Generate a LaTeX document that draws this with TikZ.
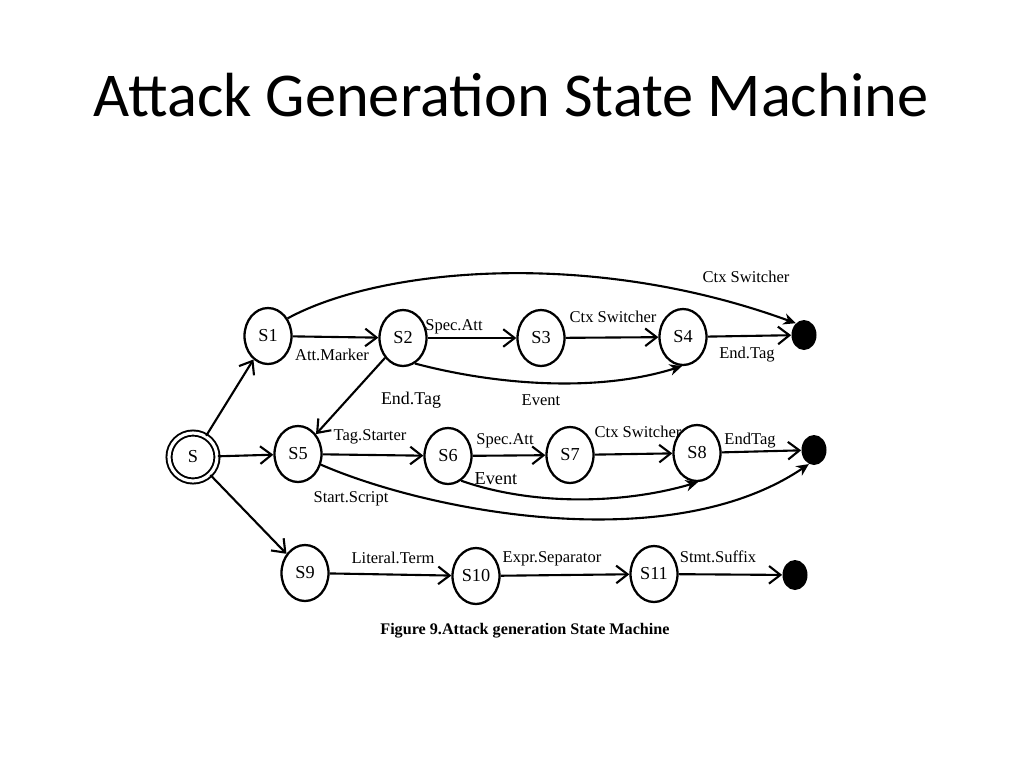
\documentclass[tikz,border=0pt]{standalone}
\usepackage{fontspec}
\setmainfont{Liberation Serif}
\newfontfamily\titlefont{Carlito}
\usetikzlibrary{shapes.geometric,arrows.meta}
\begin{document}
\begin{tikzpicture}[x=0.02cm,y=-0.02cm,
 state/.style={ellipse,draw,line width=1.3pt,minimum width=0.94cm,minimum height=1.12cm,inner sep=0pt,font=\fontsize{10.4}{11}\selectfont},
 final/.style={ellipse,fill=black,minimum width=0.5cm,minimum height=0.6cm,inner sep=0pt},
 lbl/.style={font=\fontsize{9.4}{10}\selectfont,inner sep=0pt},
 tr/.style={line width=1.2pt,-{Straight Barb[length=6.5pt,width=10pt,line width=1.2pt]}},
 cv/.style={line width=1.2pt,-{Stealth[length=7pt,width=6.5pt]}}]
\fill[white] (0,0) rectangle (1024,768);
\useasboundingbox (0,0) rectangle (1024,768);

\node[font=\titlefont\fontsize{35.5}{40}\selectfont, anchor=base] (title) at (511,116) {Attack Generation State Machine};

% states
\node[circle,draw,double,double distance=1.8pt,line width=1.1pt,minimum size=0.96cm,inner sep=0pt,font=\fontsize{10.4}{11}\selectfont] (S) at (193,457) {S};
\node[state] (S1) at (268,336) {S1};
\node[state] (S2) at (403,338) {S2};
\node[state] (S3) at (541,338) {S3};
\node[state] (S4) at (683,337) {S4};
\node[final] (F1) at (804,335) {};
\node[state] (S5) at (298,454) {S5};
\node[state] (S6) at (448,456) {S6};
\node[state] (S7) at (570,455) {S7};
\node[state] (S8) at (697,453) {S8};
\node[final] (F2) at (814,450) {};
\node[state] (S9) at (305,573) {S9};
\node[state] (S10) at (476,576) {S10};
\node[state] (S11) at (654,574) {S11};
\node[final] (F3) at (795,575) {};

% transitions
\draw[tr] (S) -- (S1);
\draw[tr] (S) -- (S5);
\draw[tr] (S) -- (S9);
\draw[tr] (S1) -- (S2);
\draw[tr] (S2) -- (S3);
\draw[tr] (S3) -- (S4);
\draw[tr] (S4) -- (F1);
\draw[tr] (S2) -- (S5);
\draw[tr] (S5) -- (S6);
\draw[tr] (S6) -- (S7);
\draw[tr] (S7) -- (S8);
\draw[tr] (S8) -- (F2);
\draw[tr] (S9) -- (S10);
\draw[tr] (S10) -- (S11);
\draw[tr] (S11) -- (F3);

\draw[cv] (S1.42) .. controls (380,268) and (590,248) .. (F1.125);
\draw[cv] (S2.-65) .. controls (500,386) and (600,392) .. (S4.-92);
\draw[cv] (S6.-62) .. controls (530,505) and (620,505) .. (S8.-88);
\draw[cv] (S5.-25) .. controls (430,512) and (670,558) .. (F2.-110);

% labels
\node[lbl] (l1) at (746,277) {Ctx Switcher};
\node[lbl] (l2) at (454,327) {Spec.Att};
\node[lbl] (l3) at (613,317) {Ctx Switcher};
\node[lbl] (l4) at (332,355) {Att.Marker};
\node[lbl] (l5) at (747,355) {End.Tag};
\node[lbl,font=\fontsize{10.2}{11}\selectfont] (l6) at (411,400) {End.Tag};
\node[lbl] (l7) at (541,400) {Event};
\node[lbl] (l8) at (370,437) {Tag.Starter};
\node[lbl] (l9) at (505,441) {Spec.Att};
\node[lbl] (l10) at (638,432) {Ctx Switcher};
\node[lbl] (l11) at (750,441) {EndTag};
\node[lbl,font=\fontsize{10.4}{11}\selectfont] (l12) at (496,479) {Event};
\node[lbl] (l13) at (351,499) {Start.Script};
\node[lbl] (l14) at (393,558) {Literal.Term};
\node[lbl] (l15) at (552,559) {Expr.Separator};
\node[lbl] (l16) at (718,557) {Stmt.Suffix};

\node[font=\bfseries\fontsize{9.2}{10}\selectfont] (cap) at (525,631) {Figure 9.Attack generation State Machine};
\end{tikzpicture}
\end{document}
